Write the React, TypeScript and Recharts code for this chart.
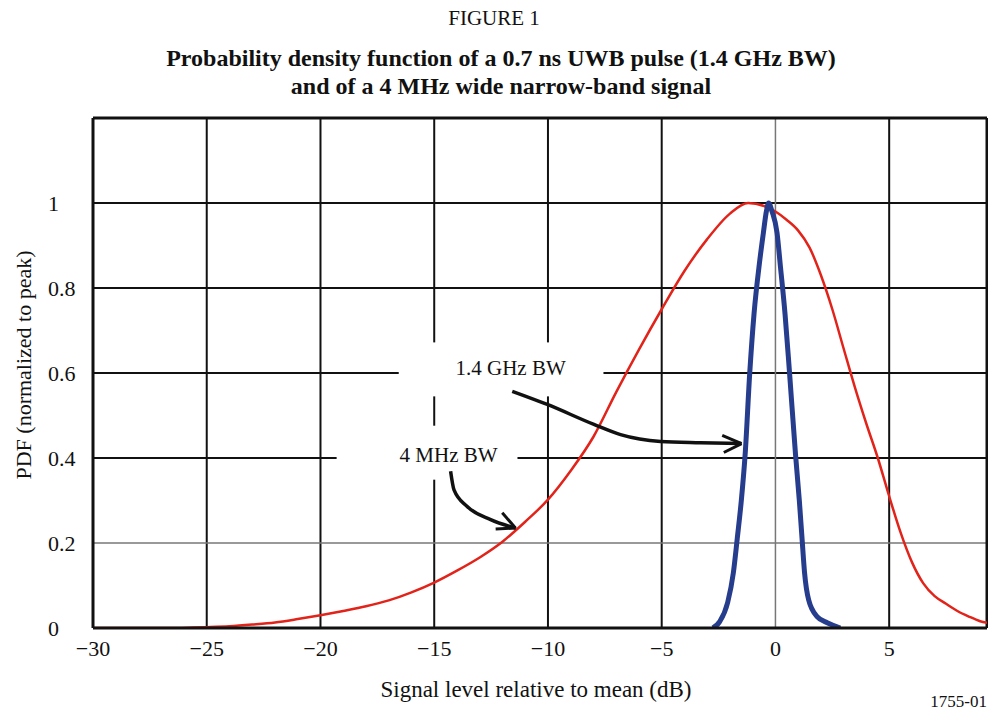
import {
  Line,
  LineChart,
  ReferenceArea,
  ReferenceDot,
  ReferenceLine,
  XAxis,
  YAxis,
} from "recharts";

const FONT = '"Liberation Serif", "Times New Roman", serif';

// 4 MHz narrow-band signal (red)
const narrowX = [-30, -27, -25, -24, -23, -22, -21, -20, -19, -18, -17, -16, -15, -14, -13, -12, -11, -10, -9, -8, -7, -6, -5, -4, -3, -2, -1.2, -0.5, 0, 0.5, 1, 1.5, 2, 2.5, 3, 3.5, 4, 4.5, 5, 5.5, 6, 6.5, 7, 7.5, 8, 8.5, 9, 9.3];
const narrowY = [0, 0, 0.002, 0.004, 0.008, 0.013, 0.021, 0.03, 0.04, 0.051, 0.065, 0.084, 0.107, 0.135, 0.166, 0.203, 0.25, 0.302, 0.37, 0.45, 0.555, 0.655, 0.75, 0.84, 0.915, 0.975, 1.0, 0.993, 0.98, 0.96, 0.935, 0.895, 0.83, 0.75, 0.657, 0.565, 0.48, 0.4, 0.31, 0.225, 0.155, 0.105, 0.075, 0.057, 0.04, 0.027, 0.016, 0.012];

// 1.4 GHz UWB pulse (blue)
const wideX = [-2.75, -2.45, -2.1, -1.85, -1.68, -1.5, -1.33, -1.13, -0.94, -0.7, -0.53, -0.4, -0.3, -0.15, 0.07, 0.22, 0.42, 0.62, 0.88, 1.05, 1.17, 1.28, 1.46, 1.83, 2.3, 2.85];
const wideY = [0, 0.015, 0.06, 0.13, 0.21, 0.3, 0.41, 0.6, 0.74, 0.86, 0.93, 0.98, 1.0, 0.98, 0.93, 0.85, 0.74, 0.6, 0.41, 0.3, 0.21, 0.13, 0.066, 0.027, 0.012, 0];

// annotation arrows, in data units
const arrowWideX = [-11.57, -10.03, -7.98, -6.81, -5.05, -3.3, -1.5];
const arrowWideY = [0.557, 0.526, 0.479, 0.455, 0.439, 0.436, 0.434];
const arrowNarrowX = [-14.28, -14.13, -13.55, -12.52, -11.42];
const arrowNarrowY = [0.369, 0.325, 0.286, 0.255, 0.235];

const xTicks = [-30, -25, -20, -15, -10, -5, 0, 5];
const yTicks = [0, 0.2, 0.4, 0.6, 0.8, 1];
const gridX = [-25, -20, -15, -10, -5, 5];
const gridY = [0.4, 0.6, 0.8, 1];

// white boxes behind the two callouts
const labelBoxes = [
  { x1: -16.56, x2: -7.56, y1: 0.545, y2: 0.672 },
  { x1: -19.29, x2: -11.34, y1: 0.349, y2: 0.476 },
];

const X_MIN = -30;
const X_MAX = 9.3;
const Y_MAX = 1.2;

const zip = (xs: number[], ys: number[]) => xs.map((x, i) => ({ x, y: ys[i] }));

const narrowData = zip(narrowX, narrowY);
const wideData = zip(wideX, wideY);
const arrowWide = zip(arrowWideX, arrowWideY);
const arrowNarrow = zip(arrowNarrowX, arrowNarrowY);

// split a grid line into pieces that skip the label boxes
function pieces(lo: number, hi: number, gaps: [number, number][]) {
  const out: [number, number][] = [];
  let start = lo;
  for (const [a, b] of [...gaps].sort((p, q) => p[0] - q[0])) {
    if (a > start) out.push([start, a]);
    start = Math.max(start, b);
  }
  if (start < hi) out.push([start, hi]);
  return out;
}

const vSegments = (v: number) =>
  pieces(0, Y_MAX, labelBoxes.filter((b) => v > b.x1 && v < b.x2).map((b) => [b.y1, b.y2] as [number, number]));
const hSegments = (v: number) =>
  pieces(X_MIN, X_MAX, labelBoxes.filter((b) => v > b.y1 && v < b.y2).map((b) => [b.x1, b.x2] as [number, number]));

const fmtX = (v: number) => String(v).replace("-", "\u2212");

function XTick({ x, y, payload }: any) {
  return (
    <text x={x} y={y + 12} dy="0.35em" textAnchor="middle" fontFamily={FONT} fontSize={22} fill="#111">
      {fmtX(payload.value)}
    </text>
  );
}

function YTick({ x, y, payload }: any) {
  return (
    <text x={x - 37} y={y} dy="0.35em" textAnchor="start" fontFamily={FONT} fontSize={22} fill="#111">
      {payload.value}
    </text>
  );
}

function YTitle({ viewBox }: any) {
  const cx = viewBox.x + 23;
  const cy = viewBox.y + viewBox.height / 2 - 8;
  return (
    <text x={cx} y={cy} dy="0.35em" textAnchor="middle" transform={`rotate(-90, ${cx}, ${cy})`} fontFamily={FONT} fontSize={22} fill="#111">
      PDF (normalized to peak)
    </text>
  );
}

export default function App() {
  const grid = { stroke: "#111", strokeWidth: 2 };
  const arrow = { stroke: "#111", strokeWidth: 3.5 };
  return (
    <div style={{ position: "absolute", left: 0, top: 0, width: 988, height: 713, background: "#fff", fontFamily: FONT, color: "#111" }}>
      <div style={{ position: "absolute", top: 6, width: 988, textAlign: "center", fontSize: 21, lineHeight: "24px" }}>FIGURE 1</div>
      <div style={{ position: "absolute", top: 44, width: 1002, textAlign: "center", fontSize: 24, fontWeight: "bold", lineHeight: "28px" }}>
        Probability density function of a 0.7 ns UWB pulse (1.4 GHz BW)
        <br />
        and of a 4 MHz wide narrow-band signal
      </div>
      <LineChart width={988} height={713} margin={{ top: 118, right: 1, bottom: 10, left: 0 }}>
        <XAxis
          type="number"
          dataKey="x"
          domain={[X_MIN, X_MAX]}
          ticks={xTicks}
          allowDataOverflow
          height={75}
          tickLine={false}
          axisLine={{ stroke: "#111", strokeWidth: 3 }}
          tick={<XTick />}
          label={{ value: "Signal level relative to mean (dB)", position: "insideBottom", offset: 6, dx: -4, fontFamily: FONT, fontSize: 23, fill: "#111" }}
        />
        <YAxis
          type="number"
          dataKey="y"
          domain={[0, Y_MAX]}
          ticks={yTicks}
          allowDataOverflow
          width={93}
          tickLine={false}
          axisLine={{ stroke: "#111", strokeWidth: 3 }}
          tick={<YTick />}
          label={<YTitle />}
        />
        {labelBoxes.map((b, i) => (
          <ReferenceArea key={`box${i}`} {...b} fill="#fff" fillOpacity={1} stroke="none" />
        ))}
        {gridX.flatMap((v) =>
          vSegments(v).map(([a, b]) => (
            <ReferenceLine key={`gx${v}-${a}`} segment={[{ x: v, y: a }, { x: v, y: b }]} {...grid} />
          )),
        )}
        {gridY.flatMap((v) =>
          hSegments(v).map(([a, b]) => (
            <ReferenceLine key={`gy${v}-${a}`} segment={[{ x: a, y: v }, { x: b, y: v }]} {...grid} />
          )),
        )}
        <ReferenceLine x={0} stroke="#777" strokeWidth={1.5} />
        <ReferenceLine y={0.2} stroke="#777" strokeWidth={1.5} />
        <ReferenceLine y={Y_MAX} stroke="#111" strokeWidth={3} />
        <ReferenceLine x={X_MAX} stroke="#111" strokeWidth={3} />
        <ReferenceDot x={-11.64} y={0.613} r={0} fill="none" stroke="none" label={{ value: "1.4 GHz BW", position: "center", fontFamily: FONT, fontSize: 21, fill: "#111" }} />
        <ReferenceDot x={-14.37} y={0.408} r={0} fill="none" stroke="none" label={{ value: "4 MHz BW", position: "center", fontFamily: FONT, fontSize: 21, fill: "#111" }} />
        <Line data={narrowData} dataKey="y" type="monotone" stroke="#e2231a" strokeWidth={2.5} dot={false} isAnimationActive={false} />
        <Line data={wideData} dataKey="y" type="monotone" stroke="#263c8c" strokeWidth={5} dot={false} isAnimationActive={false} />
        <Line data={arrowWide} dataKey="y" type="monotone" {...arrow} dot={false} isAnimationActive={false} />
        <Line data={arrowNarrow} dataKey="y" type="monotone" {...arrow} dot={false} isAnimationActive={false} />
        <ReferenceLine segment={[{ x: -2.34, y: 0.453 }, { x: -1.49, y: 0.434 }]} stroke="#111" strokeWidth={3} />
        <ReferenceLine segment={[{ x: -2.27, y: 0.413 }, { x: -1.49, y: 0.434 }]} stroke="#111" strokeWidth={3} />
        <ReferenceLine segment={[{ x: -12.01, y: 0.271 }, { x: -11.42, y: 0.235 }]} stroke="#111" strokeWidth={3} />
        <ReferenceLine segment={[{ x: -12.3, y: 0.233 }, { x: -11.42, y: 0.235 }]} stroke="#111" strokeWidth={3} />
      </LineChart>
      <div style={{ position: "absolute", right: 1, top: 692, fontSize: 17, lineHeight: "20px" }}>1755-01</div>
    </div>
  );
}
